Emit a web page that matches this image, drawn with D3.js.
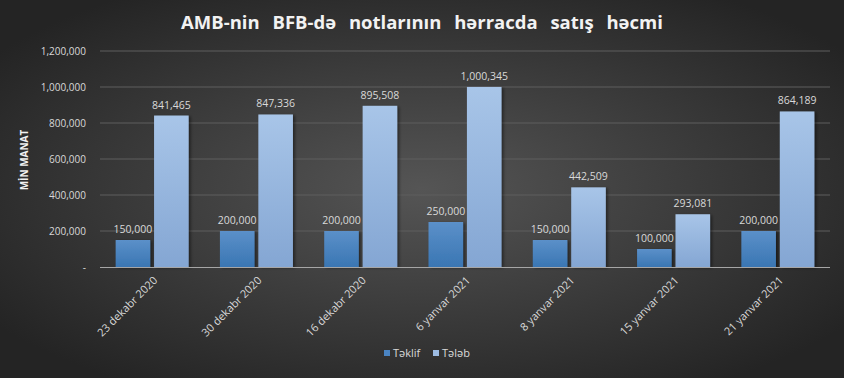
<!DOCTYPE html>
<html>
<head>
<meta charset="utf-8">
<script src="https://cdn.jsdelivr.net/npm/d3@7"></script>
<style>
body { margin: 0; background: #333; }
svg text { font-family: "Open Sans", "Noto Sans", sans-serif; }
</style>
</head>
<body>
<div id="chart"></div>
<script>
var w = 844;
var h = 378;

var categories = ["23 dekabr 2020", "30 dekabr 2020", "16 dekabr 2020", "6 yanvar 2021",
    "8 yanvar 2021", "15 yanvar 2021", "21 yanvar 2021"];
var seriesNames = ["Təklif", "Tələb"];
var teklif = [150000, 200000, 200000, 250000, 150000, 100000, 200000];
var teleb = [841465, 847336, 895508, 1000345, 442509, 293081, 864189];
var yTicks = [0, 200000, 400000, 600000, 800000, 1000000, 1200000];

var margin = {left: 100, right: 14, top: 51, bottom: 111};

var svg = d3.select("#chart")
    .append("svg")
    .attr("width", w)
    .attr("height", h);

var defs = svg.append("defs");

var bg = defs.append("radialGradient")
    .attr("id", "bg")
    .attr("cx", "50%").attr("cy", "50%").attr("r", "62%");
bg.append("stop").attr("offset", "0%").attr("stop-color", "#555555");
bg.append("stop").attr("offset", "100%").attr("stop-color", "#242424");

var g1 = defs.append("linearGradient").attr("id", "gT").attr("x1", 0).attr("y1", 0).attr("x2", 0).attr("y2", 1);
g1.append("stop").attr("offset", "0%").attr("stop-color", "#5b90c9");
g1.append("stop").attr("offset", "100%").attr("stop-color", "#3a76b3");

var g2 = defs.append("linearGradient").attr("id", "gD").attr("x1", 0).attr("y1", 0).attr("x2", 0).attr("y2", 1);
g2.append("stop").attr("offset", "0%").attr("stop-color", "#a8c5e8");
g2.append("stop").attr("offset", "100%").attr("stop-color", "#84a6d3");

var shadow = defs.append("filter").attr("id", "sh").attr("x", "-20%").attr("y", "-20%").attr("width", "150%").attr("height", "150%");
shadow.append("feDropShadow").attr("dx", 2).attr("dy", 1).attr("stdDeviation", 1.5)
    .attr("flood-color", "#000").attr("flood-opacity", 0.45);

svg.append("rect")
    .attr("width", w)
    .attr("height", h)
    .attr("fill", "url(#bg)");

var xScale = d3.scaleBand()
    .domain(categories)
    .range([margin.left, w - margin.right])
    .paddingInner(0.3)
    .paddingOuter(0.15);

var inner = d3.scaleBand()
    .domain(seriesNames)
    .range([0, xScale.bandwidth()])
    .paddingInner(0.1);

var yScale = d3.scaleLinear()
    .domain([0, 1200000])
    .range([h - margin.bottom, margin.top]);

// gridlines
svg.append("g")
    .selectAll("line")
    .data(yTicks.slice(1))
    .enter()
    .append("line")
    .attr("x1", margin.left)
    .attr("x2", w - margin.right)
    .attr("y1", function(d) { return yScale(d); })
    .attr("y2", function(d) { return yScale(d); })
    .attr("stroke", "#5e5e5e")
    .attr("stroke-width", 1);

var yAxis = d3.axisLeft(yScale)
    .tickValues(yTicks)
    .tickSize(0)
    .tickPadding(14)
    .tickFormat(function(d) { return d === 0 ? "-" : d3.format(",")(d); });

svg.append("g")
    .attr("transform", "translate(" + margin.left + ",0)")
    .call(yAxis)
    .call(function(g) { g.select(".domain").remove(); })
    .selectAll("text")
    .attr("fill", "#d9d9d9")
    .style("font-size", "10px");

var groups = svg.append("g")
    .selectAll("g")
    .data(categories)
    .enter()
    .append("g")
    .attr("transform", function(d) { return "translate(" + xScale(d) + ",0)"; });

var rows = [teklif, teleb];
var fills = ["url(#gT)", "url(#gD)"];

seriesNames.forEach(function(s, si) {
    groups.append("rect")
        .attr("x", inner(s))
        .attr("width", inner.bandwidth())
        .attr("y", function(d, i) { return yScale(rows[si][i]); })
        .attr("height", function(d, i) { return yScale(0) - yScale(rows[si][i]); })
        .attr("fill", fills[si])
        .attr("filter", "url(#sh)");

    groups.append("text")
        .attr("x", inner(s) + inner.bandwidth() / 2)
        .attr("y", function(d, i) { return yScale(rows[si][i]) - 7; })
        .attr("text-anchor", "middle")
        .attr("fill", "#d9d9d9")
        .style("font-size", "10.5px")
        .text(function(d, i) { return d3.format(",")(rows[si][i]); });
});

// x axis
var xAxis = d3.axisBottom(xScale).tickSize(0).tickPadding(8);

var xg = svg.append("g")
    .attr("transform", "translate(0," + yScale(0) + ")")
    .call(xAxis);
xg.select(".domain")
    .attr("stroke", "#a6a6a6")
    .attr("d", "M" + margin.left + ",0.5H" + (w - margin.right));
xg.selectAll("text")
    .attr("fill", "#d9d9d9")
    .style("font-size", "11px")
    .attr("text-anchor", "end")
    .attr("dy", "0.3em")
    .attr("transform", "translate(-2,6) rotate(-45)");

// title
svg.append("text")
    .attr("x", w / 2)
    .attr("y", 29)
    .attr("text-anchor", "middle")
    .attr("fill", "#f2f2f2")
    .style("font-size", "18.5px")
    .style("font-weight", "bold")
    .style("word-spacing", "8px")
    .text("AMB-nin BFB-də notlarının hərracda satış həcmi");

// y title
svg.append("text")
    .attr("transform", "translate(28,160) rotate(-90)")
    .attr("text-anchor", "middle")
    .attr("fill", "#f2f2f2")
    .style("font-size", "10px")
    .style("font-weight", "bold")
    .text("MİN MANAT");

// legend
var legendColors = ["#4a84c2", "#9dbce3"];
var legend = svg.append("g").attr("transform", "translate(384,357)");
var lx = [0, 49];
seriesNames.forEach(function(s, i) {
    legend.append("rect")
        .attr("x", lx[i])
        .attr("y", -7)
        .attr("width", 6)
        .attr("height", 6)
        .attr("fill", legendColors[i]);
    legend.append("text")
        .attr("x", lx[i] + 9)
        .attr("y", 0)
        .attr("fill", "#d9d9d9")
        .style("font-size", "11px")
        .text(s);
});
</script>
</body>
</html>
